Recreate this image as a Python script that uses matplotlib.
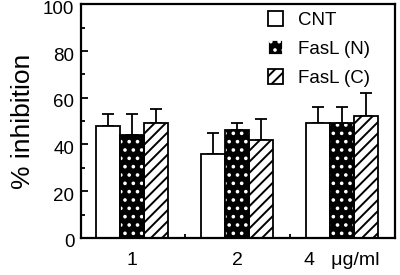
import matplotlib.pyplot as plt
import matplotlib.transforms as mtransforms
import numpy as np
from matplotlib.patches import Patch
from matplotlib.ticker import MultipleLocator

plt.rcParams['font.family'] = ['Liberation Sans', 'DejaVu Sans']
plt.rcParams['hatch.linewidth'] = 1.4

# data
doses = ['1', '2', '4']
unit = 'μg/ml'
series = ['CNT', 'FasL (N)', 'FasL (C)']
cnt = [48, 36, 49]
fasl_n = [44, 46, 49]
fasl_c = [49, 42, 52]
cnt_err = [5, 9, 7]
fasl_n_err = [9, 3, 7]
fasl_c_err = [6, 9, 10]

values = [cnt, fasl_n, fasl_c]
errors = [cnt_err, fasl_n_err, fasl_c_err]

fig = plt.figure(figsize=(4, 2.75), dpi=100)
ax = fig.add_axes([0.203, 0.135, 0.785, 0.849])

x = np.arange(len(doses))
width = 0.23
lw = 1.3

for i, (vals, errs) in enumerate(zip(values, errors)):
    pos = x + (i - 1) * width
    ax.errorbar(pos, vals, yerr=[np.zeros(len(errs)), errs], fmt='none',
                ecolor='black', elinewidth=lw, capsize=4.5, capthick=lw, zorder=1)
    if i == 0:
        ax.bar(pos, vals, width, color='white', edgecolor='black', linewidth=lw, zorder=2)
    elif i == 1:
        ax.bar(pos, vals, width, color='black', edgecolor='white', hatch='..',
               linewidth=0, zorder=2)
        ax.bar(pos, vals, width, fill=False, edgecolor='black', linewidth=lw, zorder=3)
    else:
        ax.bar(pos, vals, width, color='white', edgecolor='black', hatch='///',
               linewidth=lw, zorder=2)

ax.set_xlim(-0.486, 2.505)
ax.set_ylim(0, 100)
ax.set_xticks(x)
labels = list(doses)
labels[-1] = labels[-1] + '   ' + unit
ax.set_xticklabels(labels, fontsize=14)
ax.set_xticks([0.5, 1.5], minor=True)
ax.yaxis.set_major_locator(MultipleLocator(20))
ax.yaxis.set_minor_locator(MultipleLocator(10))
ax.tick_params(axis='y', direction='in', length=5, width=1.3, labelsize=13.5, pad=5)
ax.tick_params(axis='y', which='minor', direction='in', length=3, width=1.3)
ax.tick_params(axis='x', which='major', length=0, labelsize=14, pad=10)
ax.tick_params(axis='x', which='minor', direction='in', length=3, width=1.3)
ax.set_ylabel('% inhibition', fontsize=19, labelpad=6)
for s in ax.spines.values():
    s.set_linewidth(1.6)

# y tick labels sit a little below their ticks in the original
shift = mtransforms.ScaledTranslation(0, -3 / 100, fig.dpi_scale_trans)
for lab in ax.get_yticklabels():
    lab.set_transform(lab.get_transform() + shift)

handles = [Patch(facecolor='white', edgecolor='black', linewidth=lw),
           Patch(facecolor='black', edgecolor='white', hatch='..', linewidth=lw),
           Patch(facecolor='white', edgecolor='black', hatch='///', linewidth=lw)]
leg = ax.legend(handles, series, loc='upper right', bbox_to_anchor=(0.975, 1.045),
                frameon=False, fontsize=13.5, handlelength=0.85, handleheight=0.85,
                handletextpad=0.8, labelspacing=0.6)

fig.savefig('out.png', dpi=100)
